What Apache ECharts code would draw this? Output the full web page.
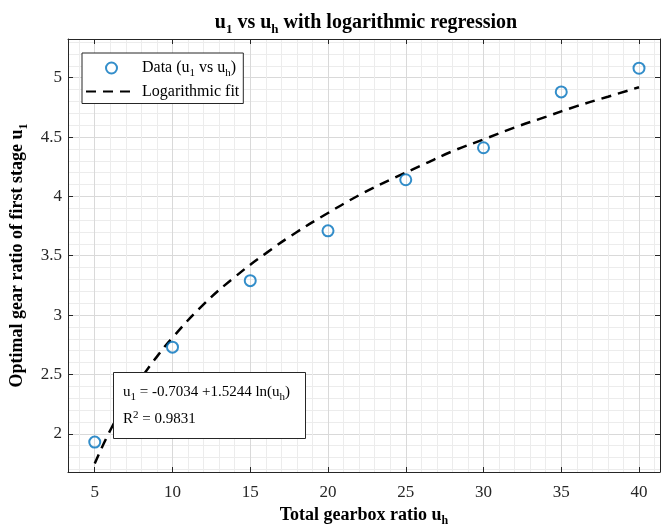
<!DOCTYPE html>
<html>
<head>
<meta charset="utf-8">
<script src="https://cdn.jsdelivr.net/npm/echarts@6/dist/echarts.min.js"></script>
<style>
  html, body { margin: 0; padding: 0; background: #fff; }
  #chart { width: 661px; height: 525px; }
</style>
</head>
<body>
<div id="chart"></div>
<script>
// measured data (u_h, u_1)
const dataX = [5, 10, 15, 20, 25, 30, 35, 40];
const dataY = [1.93, 2.73, 3.29, 3.71, 4.14, 4.41, 4.88, 5.08];

// dashed fit curve
const fitX = [5, 6, 7, 8, 9, 10, 12, 14, 16, 18, 20, 22, 24, 26, 28, 30, 32, 34, 36, 38, 40];
const fitY = [1.75, 2.03, 2.26, 2.47, 2.65, 2.81, 3.09, 3.32, 3.52, 3.70, 3.86, 4.01, 4.14, 4.26, 4.38, 4.48, 4.58, 4.67, 4.76, 4.84, 4.92];

const xTicks = [5, 10, 15, 20, 25, 30, 35, 40];
const yTicks = [2, 2.5, 3, 3.5, 4, 4.5, 5];
const xRange = [3.28, 41.35];
const yRange = [1.678, 5.326];

// minor grid positions
const xMinor = [];
for (let v = 4; v <= 41; v++) xMinor.push(v);
const yMinor = [];
for (let i = 17; i <= 53; i++) yMinor.push(i / 10);

const FONT = 'Liberation Serif';
const AXIS_COLOR = '#262626';

const chart = echarts.init(document.getElementById('chart'));

function boldRich(size, subSize, drop) {
    return {
        n: { fontFamily: FONT, fontSize: size, fontWeight: 'bold', color: '#000' },
        s: { fontFamily: FONT, fontSize: subSize, fontWeight: 'bold', color: '#000', padding: [drop, 0, 0, 0] }
    };
}
const legRich = {
    n: { fontFamily: FONT, fontSize: 16, color: '#000' },
    s: { fontFamily: FONT, fontSize: 11, color: '#000', padding: [10, 0, 0, 0] }
};

const option = {
    animation: false,
    title: {
        text: '{n|u}{s|1}{n| vs u}{s|h}{n| with logarithmic regression}',
        left: 361,
        textAlign: 'center',
        top: 4,
        textStyle: { rich: boldRich(20, 13, 14) }
    },
    grid: { left: 68, right: 1, top: 39, bottom: 53, outerBoundsMode: 'none' },
    legend: {
        orient: 'vertical',
        left: 82,
        top: 53,
        padding: [7, 4, 4, 3],
        itemGap: 5,
        itemWidth: 51,
        itemHeight: 11,
        backgroundColor: '#fff',
        borderColor: AXIS_COLOR,
        borderWidth: 1,
        data: [
            { name: 'Data' },
            { name: 'Logarithmic fit', itemStyle: { color: 'rgba(0,0,0,0)', borderWidth: 0, opacity: 0 } }
        ],
        formatter: function (name) {
            if (name === 'Data') return '{n|Data (u}{s|1}{n| vs u}{s|h}{n|)}';
            return '{n|Logarithmic fit}';
        },
        textStyle: { rich: legRich }
    },
    xAxis: [
        {
            // minor grid
            type: 'value', min: xRange[0], max: xRange[1],
            axisLine: { show: false }, axisLabel: { show: false },
            axisTick: { show: false, customValues: xMinor },
            splitLine: { show: true, lineStyle: { color: '#ececec', width: 1 } }
        },
        {
            type: 'value', position: 'bottom', min: xRange[0], max: xRange[1],
            axisLine: { show: true, onZero: false, lineStyle: { color: AXIS_COLOR, width: 1 } },
            axisTick: { show: true, inside: true, length: 5, customValues: xTicks, lineStyle: { color: AXIS_COLOR } },
            axisLabel: { customValues: xTicks, margin: 12, fontFamily: FONT, fontSize: 17, color: AXIS_COLOR },
            splitLine: { show: true, lineStyle: { color: '#d9d9d9', width: 1 } },
            name: '{n|Total gearbox ratio u}{s|h}',
            nameLocation: 'middle',
            nameGap: 29,
            nameTextStyle: { rich: boldRich(18, 12, 13) }
        },
        {
            type: 'value', position: 'top', min: xRange[0], max: xRange[1],
            axisLine: { show: true, onZero: false, lineStyle: { color: AXIS_COLOR, width: 1 } },
            axisTick: { show: true, inside: true, length: 5, customValues: xTicks, lineStyle: { color: AXIS_COLOR } },
            axisLabel: { show: false },
            splitLine: { show: false }
        }
    ],
    yAxis: [
        {
            type: 'value', min: yRange[0], max: yRange[1],
            axisLine: { show: false }, axisLabel: { show: false },
            axisTick: { show: false, customValues: yMinor },
            splitLine: { show: true, lineStyle: { color: '#ececec', width: 1 } }
        },
        {
            type: 'value', position: 'left', min: yRange[0], max: yRange[1],
            axisLine: { show: true, onZero: false, lineStyle: { color: AXIS_COLOR, width: 1 } },
            axisTick: { show: true, inside: true, length: 5, customValues: yTicks, lineStyle: { color: AXIS_COLOR } },
            axisLabel: { customValues: yTicks, margin: 6, fontFamily: FONT, fontSize: 17, color: AXIS_COLOR },
            splitLine: { show: true, lineStyle: { color: '#d9d9d9', width: 1 } },
            name: '{n|Optimal gear ratio of first stage u}{s|1}',
            nameLocation: 'middle',
            nameGap: 30,
            nameRotate: 90,
            nameTextStyle: { rich: boldRich(18, 12, 13) }
        },
        {
            type: 'value', position: 'right', min: yRange[0], max: yRange[1],
            axisLine: { show: true, onZero: false, lineStyle: { color: AXIS_COLOR, width: 1 } },
            axisTick: { show: true, inside: true, length: 5, customValues: yTicks, lineStyle: { color: AXIS_COLOR } },
            axisLabel: { show: false },
            splitLine: { show: false }
        }
    ],
    series: [
        {
            name: 'Data',
            type: 'scatter',
            xAxisIndex: 1,
            yAxisIndex: 1,
            symbol: 'circle',
            symbolSize: 11,
            itemStyle: { color: 'rgba(255,255,255,0)', borderColor: '#0072BD', borderWidth: 2 },
            data: dataX.map((x, i) => [x, dataY[i]]),
            z: 4
        },
        {
            name: 'Logarithmic fit',
            type: 'line',
            xAxisIndex: 1,
            yAxisIndex: 1,
            smooth: true,
            symbol: 'none',
            lineStyle: { color: '#000', width: 2.5, type: [10, 7] },
            itemStyle: { color: '#000' },
            data: fitX.map((x, i) => [x, fitY[i]]),
            z: 3
        }
    ],
    graphic: [
        {
            type: 'rect',
            left: 113,
            top: 372,
            z: 100,
            shape: { x: 0, y: 0, width: 192, height: 66 },
            style: { fill: '#ffffff', stroke: AXIS_COLOR, lineWidth: 1 }
        },
        {
            type: 'text',
            left: 123,
            top: 385,
            z: 101,
            style: {
                text: '{n|u}{s|1}{n| = -0.7034 +1.5244 ln(u}{s|h}{n|)}\n{n|R}{p|2}{n| = 0.9831}',
                rich: {
                    n: { fontFamily: FONT, fontSize: 15, color: '#000', lineHeight: 27 },
                    s: { fontFamily: FONT, fontSize: 11, color: '#000', padding: [10, 0, 0, 0] },
                    p: { fontFamily: FONT, fontSize: 11, color: '#000', padding: [0, 0, 8, 0] }
                }
            }
        }
    ]
};

chart.setOption(option);
</script>
</body>
</html>
